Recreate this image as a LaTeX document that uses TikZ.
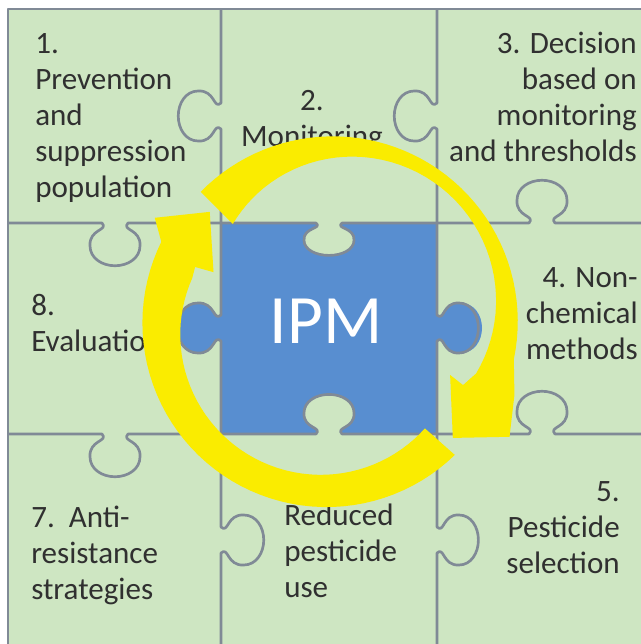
\documentclass[tikz,border=0pt]{standalone}
\usepackage{fontspec}
\setmainfont{Carlito}
\definecolor{greenbg}{RGB}{206,230,194}
\definecolor{lineg}{RGB}{128,138,150}
\definecolor{bluec}{RGB}{88,142,208}
\definecolor{arrowy}{RGB}{250,236,0}
\definecolor{txtc}{RGB}{48,48,48}
% knob on a horizontal edge: centre x, edge y, signed depth factor (+ = down)
\newcommand\hknob[3]{%
 -- ({#1-13},#2) .. controls ({#1-6},{#2+(#3)*8}) and ({#1-26},{#2+(#3)*6}) .. ({#1-25},{#2+(#3)*24})
 .. controls ({#1-25},{#2+(#3)*37}) and ({#1-13},{#2+(#3)*45}) .. (#1,{#2+(#3)*45})
 .. controls ({#1+13},{#2+(#3)*45}) and ({#1+25},{#2+(#3)*37}) .. ({#1+25},{#2+(#3)*24})
 .. controls ({#1+26},{#2+(#3)*6}) and ({#1+6},{#2+(#3)*8}) .. ({#1+13},#2)}
% knob on a vertical edge: edge x, centre y, signed depth factor (+ = right)
\newcommand\vknob[3]{%
 -- (#1,{#2-13}) .. controls ({#1+(#3)*8},{#2-6}) and ({#1+(#3)*6},{#2-26}) .. ({#1+(#3)*24},{#2-25})
 .. controls ({#1+(#3)*37},{#2-25}) and ({#1+(#3)*45},{#2-13}) .. ({#1+(#3)*45},#2)
 .. controls ({#1+(#3)*45},{#2+13}) and ({#1+(#3)*37},{#2+25}) .. ({#1+(#3)*24},{#2+25})
 .. controls ({#1+(#3)*6},{#2+26}) and ({#1+(#3)*8},{#2+6}) .. (#1,{#2+13})}
\tikzset{
  gridline/.style={draw=lineg, line width=2pt, line join=round},
  celltext/.style={inner sep=0pt, text=txtc, font=\fontsize{23.3}{27}\selectfont},
  ipmtext/.style={inner sep=0pt, text=white, font=\fontsize{52}{60}\selectfont},
  arrowshape/.style={fill=arrowy},
}
\begin{document}
\begin{tikzpicture}[x=0.75pt,y=-0.75pt]
\useasboundingbox (0,0) rectangle (641,644);
\clip (0,0) rectangle (641,644);
\fill[white] (0,0) rectangle (641,644);
\fill[greenbg] (8,9) rectangle (645,648);
% blue centre piece
\fill[bluec] (221,223) rectangle (437,434);
\fill[bluec] (221,300) \vknob{221}{328}{-1} -- (221,356) -- cycle;
\fill[bluec] (437,300) \vknob{437}{328}{1} -- (437,356) -- cycle;
\fill[greenbg] (300,223) \hknob{329}{223}{0.72} -- (358,223) -- cycle;
\fill[greenbg] (300,434) \hknob{329}{434}{-0.88} -- (358,434) -- cycle;
% puzzle lines
\draw[gridline] (8,223) \hknob{115}{223}{0.95} -- (221,223) \hknob{329}{223}{0.72} -- (437,223) \hknob{542}{223}{-0.95} -- (648,223);
\draw[gridline] (8,434) \hknob{115}{434}{0.95} -- (221,434) \hknob{329}{434}{-0.88} -- (437,434) \hknob{542}{434}{-0.95} -- (648,434);
\draw[gridline] (221,9) \vknob{221}{116}{-0.95} -- (221,223) \vknob{221}{328}{-0.97} -- (221,434) \vknob{221}{540}{0.95} -- (221,650);
\draw[gridline] (437,9) \vknob{437}{116}{-0.95} -- (437,223) \vknob{437}{328}{0.92} -- (437,434) \vknob{437}{540}{0.92} -- (437,650);
\draw[gridline] (8,650) -- (8,9) -- (648,9);
% texts
\node[celltext, anchor=base west] (c1) at (35,53) {\begin{tabular}[t]{@{}l@{}}1.\\Prevention\\and\\suppression\\population\end{tabular}};
\node[celltext, anchor=base] (c2) at (312,110) {\begin{tabular}[t]{@{}c@{}}2.\\Monitoring\end{tabular}};
\node[celltext, anchor=base east] (c3) at (637,53) {\begin{tabular}[t]{@{}r@{}}3. Decision\\based on\\monitoring\\and thresholds\end{tabular}};
\node[celltext, anchor=base east] (c4) at (638,287) {\begin{tabular}[t]{@{}r@{}}4. Non-\\chemical\\methods\end{tabular}};
\node[celltext, anchor=base east] (c5) at (620,501) {\begin{tabular}[t]{@{}r@{}}5.\\Pesticide\\selection\end{tabular}};
\node[celltext, anchor=base west] (c6) at (284,525) {\begin{tabular}[t]{@{}l@{}}Reduced\\pesticide\\use\end{tabular}};
\node[celltext, anchor=base west] (c7) at (31,527) {\begin{tabular}[t]{@{}l@{}}7.\ \ Anti-\\resistance\\strategies\end{tabular}};
\node[celltext, anchor=base west] (c8) at (31,315) {\begin{tabular}[t]{@{}l@{}}8.\\Evaluation\end{tabular}};
\node[ipmtext, anchor=base] (ipm) at (326,343) {IPM};
% circular arrows
\begin{scope}[shift={(329,320)},yscale=-1]
\fill[arrowshape] plot[domain=135:-12, samples=50] (\x:{185+4*cos(\x+20)})
  -- (-22:200) -- (-32.9:215) -- (-43.6:171) -- (-24.4:133) -- (-25.9:149)
  -- plot[domain=-20:135, samples=50] (\x:{139+35*cos(\x-40)}) -- cycle;
\fill[arrowshape] plot[domain=313:155, samples=50] (\x:{184+4*cos(\x-230)})
  -- (149.6:202) -- (137.8:161) -- (157.5:125) -- (158.4:144)
  -- plot[domain=163:311.5, samples=50] (\x:{139+18*cos(\x-240)}) -- cycle;
\end{scope}
\end{tikzpicture}
\end{document}
